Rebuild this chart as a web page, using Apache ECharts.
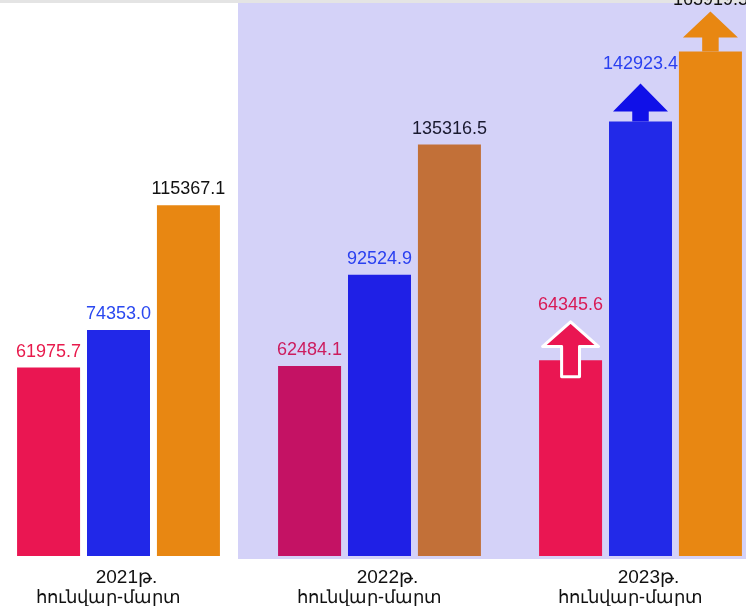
<!DOCTYPE html>
<html>
<head>
<meta charset="utf-8">
<script src="https://cdn.jsdelivr.net/npm/echarts@6/dist/echarts.min.js"></script>
<style>
  html, body { margin: 0; padding: 0; background: #fff; }
  #chart { width: 746px; height: 606px; }
</style>
</head>
<body>
<div id="chart"></div>
<script>
var categories = ['2021թ.\nհունվար-մարտ', '2022թ.\nհունվար-մարտ', '2023թ.\nհունվար-մարտ'];
var redValues = [61975.7, 62484.1, 64345.6];
var blueValues = [74353.0, 92524.9, 142923.4];
var orangeValues = [115367.1, 135316.5, 165919.5];

var redColors = ['#ea1652', '#c41264', '#ea1652'];
var redLabel = ['#e81a4c', '#cc1c5e', '#d81a55'];
var blueColors = ['#2128e8', '#1f20e6', '#2229e8'];
var blueLabel = ['#2a48f0', '#2a40f0', '#2a40f0'];
var orangeColors = ['#e88712', '#c27038', '#e88712'];
var orangeLabel = ['#111', '#1a1a30', '#111'];

var font = "'Liberation Sans', Arial, sans-serif";

// arrows over the 2023 bars
var arrowRed = 'path://M50,0 L100,45 L66,45 L66,100 L34,100 L34,45 L0,45 Z';
var arrowBlue = 'path://M50,0 L100,74 L65,74 L65,100 L35,100 L35,74 L0,74 Z';
var arrowOrange = 'path://M50,0 L100,65 L65,65 L65,100 L35,100 L35,65 L0,65 Z';

function items(values, colors, labelColors, lastDist) {
    return values.map(function (v, i) {
        return {
            value: v,
            itemStyle: { color: colors[i] },
            label: { color: labelColors[i], distance: i == 2 ? lastDist : 7 }
        };
    });
}

function barSeries(name, values, colors, labelColors, lastDist, arrow, size, offset, arrowColor, border) {
    return {
        name: name,
        type: 'bar',
        barWidth: 63,
        barGap: '11%',
        data: items(values, colors, labelColors, lastDist),
        label: {
            show: true,
            position: 'top',
            fontSize: 18,
            fontFamily: font,
            formatter: function (p) { return p.value.toFixed(1); }
        },
        markPoint: {
            silent: true,
            label: { show: false },
            data: [{
                coord: [categories[2], values[2]],
                symbol: arrow,
                symbolSize: size,
                symbolOffset: [0, offset],
                itemStyle: {
                    color: arrowColor,
                    borderColor: border ? '#fff' : arrowColor,
                    borderWidth: border ? 3 : 0,
                    borderJoin: 'round'
                }
            }]
        }
    };
}

var chart = echarts.init(document.getElementById('chart'));
var option = {
    backgroundColor: '#ffffff',
    animation: false,
    graphic: [
        { type: 'rect', z: 0, silent: true, shape: { x: 0, y: 0, width: 746, height: 3 }, style: { fill: '#e4e4e4' } },
        { type: 'rect', z: 0, silent: true, shape: { x: 238, y: 3, width: 508, height: 556 }, style: { fill: '#d4d2f8' } }
    ],
    grid: {
        left: -12,
        width: 783,
        top: 33,
        bottom: 50,
        outerBoundsMode: 'none'
    },
    xAxis: {
        type: 'category',
        data: categories,
        axisLine: { show: false },
        axisTick: { show: false },
        axisLabel: {
            margin: 11,
            color: '#111',
            formatter: function (v) {
                var p = v.split('\n');
                return '{a|' + p[0] + '}\n{b|' + p[1] + '}';
            },
            rich: {
                a: { fontSize: 19, lineHeight: 21, fontFamily: font, color: '#111', padding: [0, 0, 0, 16] },
                b: { fontSize: 18, lineHeight: 21, fontFamily: font, color: '#111', padding: [0, 20, 0, 0] }
            }
        }
    },
    yAxis: {
        type: 'value',
        min: 0,
        max: 172000,
        show: false,
        splitLine: { show: false }
    },
    series: [
        barSeries('red', redValues, redColors, redLabel, 46, arrowRed, [56, 55], -11, '#ea1652', true),
        barSeries('blue', blueValues, blueColors, blueLabel, 48, arrowBlue, [55, 38], -19, '#1010e8', false),
        barSeries('orange', orangeValues, orangeColors, orangeLabel, 42, arrowOrange, [55, 40], -20, '#e88712', false)
    ]
};
chart.setOption(option);
</script>
</body>
</html>
